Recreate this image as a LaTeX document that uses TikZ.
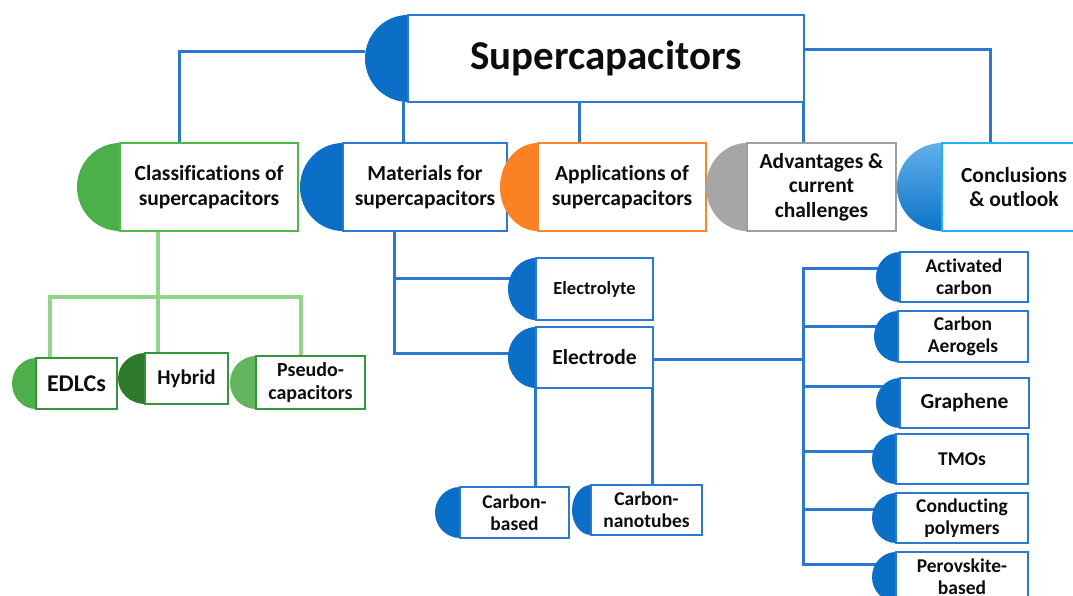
\documentclass[tikz,border=0pt]{standalone}
\usepackage{fontspec}
\setmainfont{Carlito}[Ligatures=NoCommon]
\usetikzlibrary{calc}
\pgfdeclarelayer{bg}
\pgfsetlayers{bg,main}
\definecolor{blueF}{HTML}{0B6FC7}
\definecolor{blueB}{HTML}{2A7AD4}
\definecolor{blueL}{HTML}{2A78D0}
\definecolor{greenF}{HTML}{4DAF4A}
\definecolor{greenB}{HTML}{50B848}
\definecolor{greenL}{HTML}{93D48B}
\definecolor{gEd}{HTML}{4FAF4A}
\definecolor{gHy}{HTML}{2E7B2E}
\definecolor{gPs}{HTML}{62B55C}
\definecolor{gChB}{HTML}{33963A}
\definecolor{orangeF}{HTML}{FA8225}
\definecolor{orangeB}{HTML}{F5862E}
\definecolor{grayF}{HTML}{A6A6A6}
\definecolor{grayB}{HTML}{9E9E9E}
\definecolor{cyanB}{HTML}{1DB3F0}
\definecolor{conT}{HTML}{62B0E8}
\definecolor{conB}{HTML}{0B74C9}
\newcommand\capnode[9]{%
  \path[#9] (#3,#4) arc[start angle=90,end angle=270,x radius=#7pt,y radius={#6pt/2}] -- cycle;
  \node[#2,anchor=north west,minimum width=#5pt,minimum height=#6pt] (#1) at (#3,#4) {#8};
  \coordinate (#1-tip) at ({#3-#7},{#4+#6/2});
}
\begin{document}
\begin{tikzpicture}[x=1pt,y=-1pt,
  box/.style={draw,fill=white,line width=2.4pt,outer sep=0pt,inner sep=2pt,align=center,text=black!95},
  bluebox/.style={box,draw=blueB},
  greenbox/.style={box,draw=greenB},
  orangebox/.style={box,draw=orangeB},
  graybox/.style={box,draw=grayB},
  cyanbox/.style={box,draw=cyanB},
  gchild/.style={box,draw=gChB,line width=2.2pt},
  bsmall/.style={box,draw=blueB,line width=2.2pt},
  fmain/.style={font=\bfseries\fontsize{41}{46}\selectfont},
  ftwo/.style={font=\bfseries\fontsize{21.5}{24.5}\selectfont},
  fedl/.style={font=\bfseries\fontsize{24}{27}\selectfont},
  fhyb/.style={font=\bfseries\fontsize{21}{24}\selectfont},
  fpse/.style={font=\bfseries\fontsize{20}{22.5}\selectfont},
  fely/.style={font=\bfseries\fontsize{18.5}{21}\selectfont},
  feld/.style={font=\bfseries\fontsize{21.5}{24}\selectfont},
  fsm/.style={font=\bfseries\fontsize{19.5}{22}\selectfont},
  bline/.style={draw=blueL,line width=3pt},
  gline/.style={draw=greenL,line width=3.3pt}]
\useasboundingbox (0,0) rectangle (1073,596);
\clip (0,0) rectangle (1073,596);

\capnode{main}{bluebox,fmain,line width=2.8pt}{408}{15}{396}{87}{43}{Supercapacitors}{fill=blueF}
\capnode{cls}{greenbox,ftwo}{120}{143}{178}{88}{43}{Classifications of\\supercapacitors}{fill=greenF}
\capnode{mat}{bluebox,ftwo}{343}{143}{164}{88}{43}{Materials for\\supercapacitors}{fill=blueF}
\capnode{app}{orangebox,ftwo}{538}{143}{168}{88}{38}{Applications of\\supercapacitors}{fill=orangeF}
\capnode{adv}{graybox,ftwo}{747}{143}{149}{88}{41}{Advantages \&\\current\\challenges}{fill=grayF}
\capnode{con}{cyanbox,ftwo}{942}{143}{144}{88}{45}{Conclusions\\\& outlook}{top color=conT,bottom color=conB}

\capnode{edlc}{gchild,fedl}{36}{358}{81}{51}{24}{EDLCs}{fill=gEd}
\capnode{hyb}{gchild,fhyb}{145}{353}{83}{51}{27}{Hybrid}{fill=gHy}
\capnode{pse}{gchild,fpse}{256}{356}{109}{53}{26}{Pseudo-\\capacitors}{fill=gPs}

\capnode{ely}{bsmall,fely}{536}{258}{117}{62}{28}{Electrolyte}{fill=blueF}
\capnode{eld}{bsmall,feld}{536}{327}{117}{61}{28}{Electrode}{fill=blueF}
\capnode{cb}{bsmall,fsm}{460}{487}{109}{51}{25}{Carbon-\\based}{fill=blueF}
\capnode{cnt}{bsmall,fsm}{591}{485}{111}{50}{19}{Carbon-\\nanotubes}{fill=blueF}

\capnode{ac}{bsmall,fsm}{900}{252}{128}{50}{24}{Activated\\carbon}{fill=blueF}
\capnode{ca}{bsmall,fsm}{898}{311}{130}{51}{24}{Carbon\\Aerogels}{fill=blueF}
\capnode{gr}{bsmall,fsm,font=\bfseries\fontsize{21.5}{24}\selectfont}{900}{378}{129}{50}{24}{Graphene}{fill=blueF}
\capnode{tmo}{bsmall,fsm}{896}{434}{132}{50}{24}{TMOs}{fill=blueF}
\capnode{cp}{bsmall,fsm}{896}{493}{132}{50}{24}{Conducting\\polymers}{fill=blueF}
\capnode{pb}{bsmall,fsm}{896}{552}{132}{50}{24}{Perovskite-\\based}{fill=blueF}

\begin{pgfonlayer}{bg}
  % top level
  \draw[bline] (main-tip |- 0,52) -| (cls.north -| 179,0);
  \draw[bline] (main.north east |- 0,50) -| (con.north -| 990,0);
  \draw[bline] (main.south -| 403,0) -- (mat.north -| 403,0);
  \draw[bline] (main.south -| 579,0) -- (app.north -| 579,0);
  \draw[bline] (main.south -| 803,0) -- (adv.north -| 803,0);
  % classifications
  \coordinate (gj) at (158,297);
  \draw[gline] (cls.south -| gj) -- (gj);
  \draw[gline] (edlc.north -| 50,0) |- (gj) -| (pse.north -| 301,0);
  \draw[gline] (gj) -- (hyb.north -| gj);
  % materials
  \coordinate (mj) at (394,353);
  \draw[bline] (mat.south -| mj) -- (mj) -- (eld.west |- mj);
  \draw[bline] (mat.south -| mj) |- (ely.west |- 0,278);
  % electrode children
  \draw[bline] (eld.south -| 535,0) -- (cb.north -| 535,0);
  \draw[bline] (eld.south -| 652,0) -- (cnt.north -| 652,0);
  % right bus
  \coordinate (rb1) at (803,268);
  \coordinate (rb2) at (803,564);
  \draw[bline] (eld.east |- 0,359) -- (rb1 |- 0,359);
  \draw[bline] (ac.west |- rb1) -- (rb1) -- (rb2) -- (pb.west |- rb2);
  \draw[bline] (rb1 |- 0,326) -- (ca.west |- 0,326);
  \draw[bline] (rb1 |- 0,386) -- (gr.west |- 0,386);
  \draw[bline] (rb1 |- 0,451) -- (tmo.west |- 0,451);
  \draw[bline] (rb1 |- 0,509) -- (cp.west |- 0,509);
\end{pgfonlayer}
\end{tikzpicture}
\end{document}
